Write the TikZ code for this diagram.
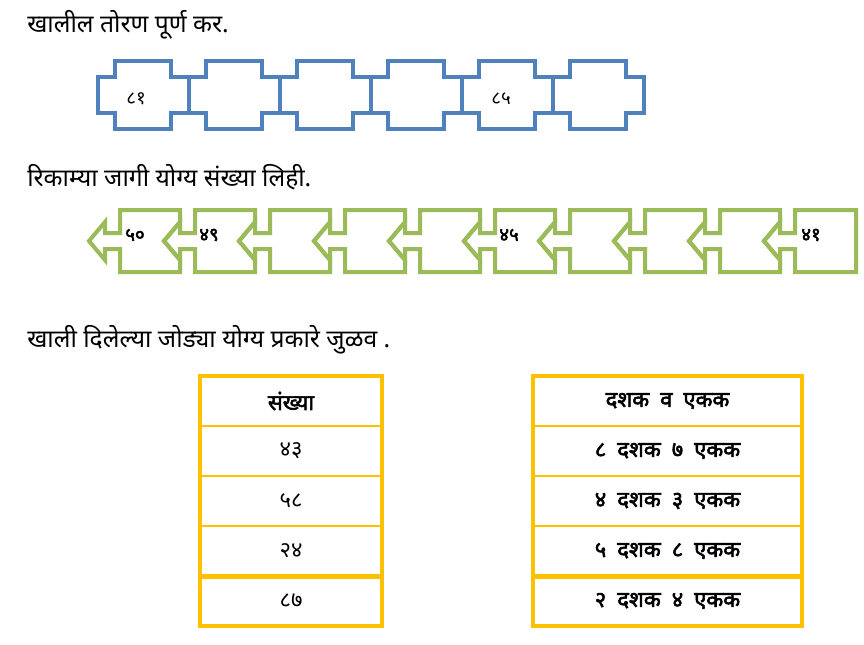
\documentclass[tikz,border=0pt]{standalone}
\usepackage{fontspec}
\setmainfont{Noto Sans}[Script=Devanagari,BoldFont={Noto Sans},BoldFeatures={FakeBold=2.5}]
\usetikzlibrary{positioning}
\definecolor{toranblue}{HTML}{4F81BD}
\definecolor{arrowgreen}{HTML}{9BBB59}
\definecolor{tableyellow}{HTML}{FFC000}

\begin{document}
\begin{tikzpicture}[x=0.75pt,y=-0.75pt,
  heading/.style={anchor=base west,inner sep=0pt,font=\fontsize{18.5}{20}\selectfont},
  numlabel/.style={inner sep=0pt,font=\fontsize{14}{16}\selectfont},
  toran/.style={draw=toranblue,line width=3pt},
  chevron/.style={draw=arrowgreen,line width=3pt},
  cell/.style={draw=tableyellow,line width=2.2pt,outer sep=0pt,minimum height=37.5pt,
    inner sep=0pt,font=\fontsize{16.5}{18}\selectfont},
  numcell/.style={cell,minimum width=136.5pt},
  placecell/.style={cell,minimum width=201.75pt,font=\fontsize{16.5}{18}\selectfont\bfseries}]
 \useasboundingbox (0,0) rectangle (864,644);

 \node[heading] (title1) at (27,32) {खालील तोरण पूर्ण कर.};
 \node[heading] (title2) at (27,186) {रिकाम्या जागी योग्य संख्या लिही.};
 \node[heading] (title3) at (27,347) {खाली दिलेल्या जोड्या योग्य प्रकारे जुळव .};

 % toran of six pieces
 \foreach \i in {0,...,5}{
  \pgfmathsetmacro\bl{115+91*\i}
  \draw[toran] (\bl,61) -- (\bl+56,61) -- (\bl+56,77) -- (\bl+73.5,77) -- (\bl+73.5,113)
    -- (\bl+56,113) -- (\bl+56,129) -- (\bl,129) -- (\bl,113) -- (\bl-17.5,113)
    -- (\bl-17.5,77) -- (\bl,77) -- cycle;
 }
 \node[numlabel] (t81) at (136,99) {८१};
 \node[numlabel] (t85) at (501,99) {८५};

 % chain of arrows, pointing left
 \foreach \j in {0,...,8}{
  \pgfmathsetmacro\bl{120+75*\j}
  \draw[chevron] (\bl,210) -- (\bl+60,210) -- (\bl+60,222) -- (\bl+44,241) -- (\bl+60,260)
    -- (\bl+60,272) -- (\bl,272) -- (\bl,249) -- (\bl-15,249) -- (\bl-15,260)
    -- (\bl-31,241) -- (\bl-15,222) -- (\bl-15,233) -- (\bl,233) -- cycle;
 }
 \draw[chevron] (795,210) -- (856,210) -- (856,272) -- (795,272) -- (795,249) -- (780,249)
   -- (780,260) -- (764,241) -- (780,222) -- (780,233) -- (795,233) -- cycle;
 \node[numlabel,font=\fontsize{14}{16}\selectfont\bfseries] (a50) at (135,235) {५०};
 \node[numlabel,font=\fontsize{14}{16}\selectfont\bfseries] (a49) at (209,235) {४९};
 \node[numlabel,font=\fontsize{14}{16}\selectfont\bfseries] (a45) at (509,235) {४५};
 \node[numlabel,font=\fontsize{14}{16}\selectfont\bfseries] (a41) at (811,235) {४१};

 % left table
 \node[numcell,anchor=north west] (num0) at (200,376) {\bfseries संख्या};
 \node[numcell,below=0pt of num0] (num1) {४३};
 \node[numcell,below=0pt of num1] (num2) {५८};
 \node[numcell,below=0pt of num2] (num3) {२४};
 \node[numcell,below=0pt of num3] (num4) {८७};

 % right table
 \node[placecell,anchor=north west] (place0) at (533,376) {दशक\enspace व\enspace एकक};
 \node[placecell,below=0pt of place0] (place1) {८\enspace दशक\enspace ७\enspace एकक};
 \node[placecell,below=0pt of place1] (place2) {४\enspace दशक\enspace ३\enspace एकक};
 \node[placecell,below=0pt of place2] (place3) {५\enspace दशक\enspace ८\enspace एकक};
 \node[placecell,below=0pt of place3] (place4) {२\enspace दशक\enspace ४\enspace एकक};

 % outer frames
 \draw[tableyellow,line width=3pt] (num0.north west) rectangle (num4.south east);
 \draw[tableyellow,line width=3.75pt] (num4.north west) -- (num4.north east);
 \draw[tableyellow,line width=3pt] (place0.north west) rectangle (place4.south east);
 \draw[tableyellow,line width=3.75pt] (place4.north west) -- (place4.north east);
\end{tikzpicture}
\end{document}
